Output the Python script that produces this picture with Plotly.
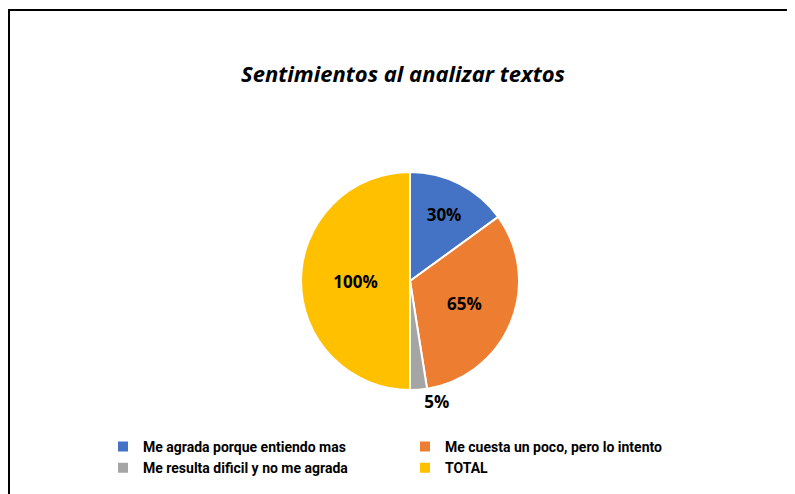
import plotly.graph_objects as go

# datos
categorias = ['Me agrada porque entiendo mas',
              'Me cuesta un poco, pero lo intento',
              'Me resulta dificil y no me agrada',
              'TOTAL']
valores = [30, 65, 5, 100]
colores = ['#4472C4', '#ED7D31', '#A5A5A5', '#FFC000']

W, H = 795, 494
OX, OY = 8, 8  # margen del body de la página


def px(x):
    return (x - OX) / W


def py(y):
    return 1 - (y - OY) / H


fig = go.Figure()

fig.add_trace(go.Pie(
    labels=categorias,
    values=valores,
    marker=dict(colors=colores, line=dict(color='white', width=2)),
    sort=False,
    direction='clockwise',
    rotation=0,
    texttemplate='%{value}%',
    textposition=['inside', 'inside', 'outside', 'inside'],
    insidetextorientation='horizontal',
    textfont=dict(family='Open Sans', size=17, color='black', weight='bold'),
    domain=dict(x=[px(301), px(519)], y=[py(390), py(172)]),
    hoverinfo='label+value',
))

fig.update_layout(
    width=W, height=H,
    margin=dict(l=0, r=0, t=0, b=0, autoexpand=False),
    paper_bgcolor='white',
    title=dict(text='<b><i>Sentimientos al analizar textos</i></b>',
               x=px(403), xanchor='center', y=py(74), yanchor='middle',
               font=dict(family='Open Sans', size=22, color='black')),
    showlegend=True,
    legend=dict(orientation='h', x=px(103), xanchor='left',
                y=py(431), yanchor='top',
                entrywidth=257, entrywidthmode='pixels',
                font=dict(family='Roboto', size=14, color='black', weight='bold'),
                itemwidth=30, tracegroupgap=0),
)

# marco del gráfico
fig.add_shape(type='rect', xref='paper', yref='paper',
              x0=px(9), x1=1.02, y0=-0.02, y1=py(10),
              line=dict(color='black', width=2), fillcolor='rgba(0,0,0,0)')

fig.write_html('out.html')
